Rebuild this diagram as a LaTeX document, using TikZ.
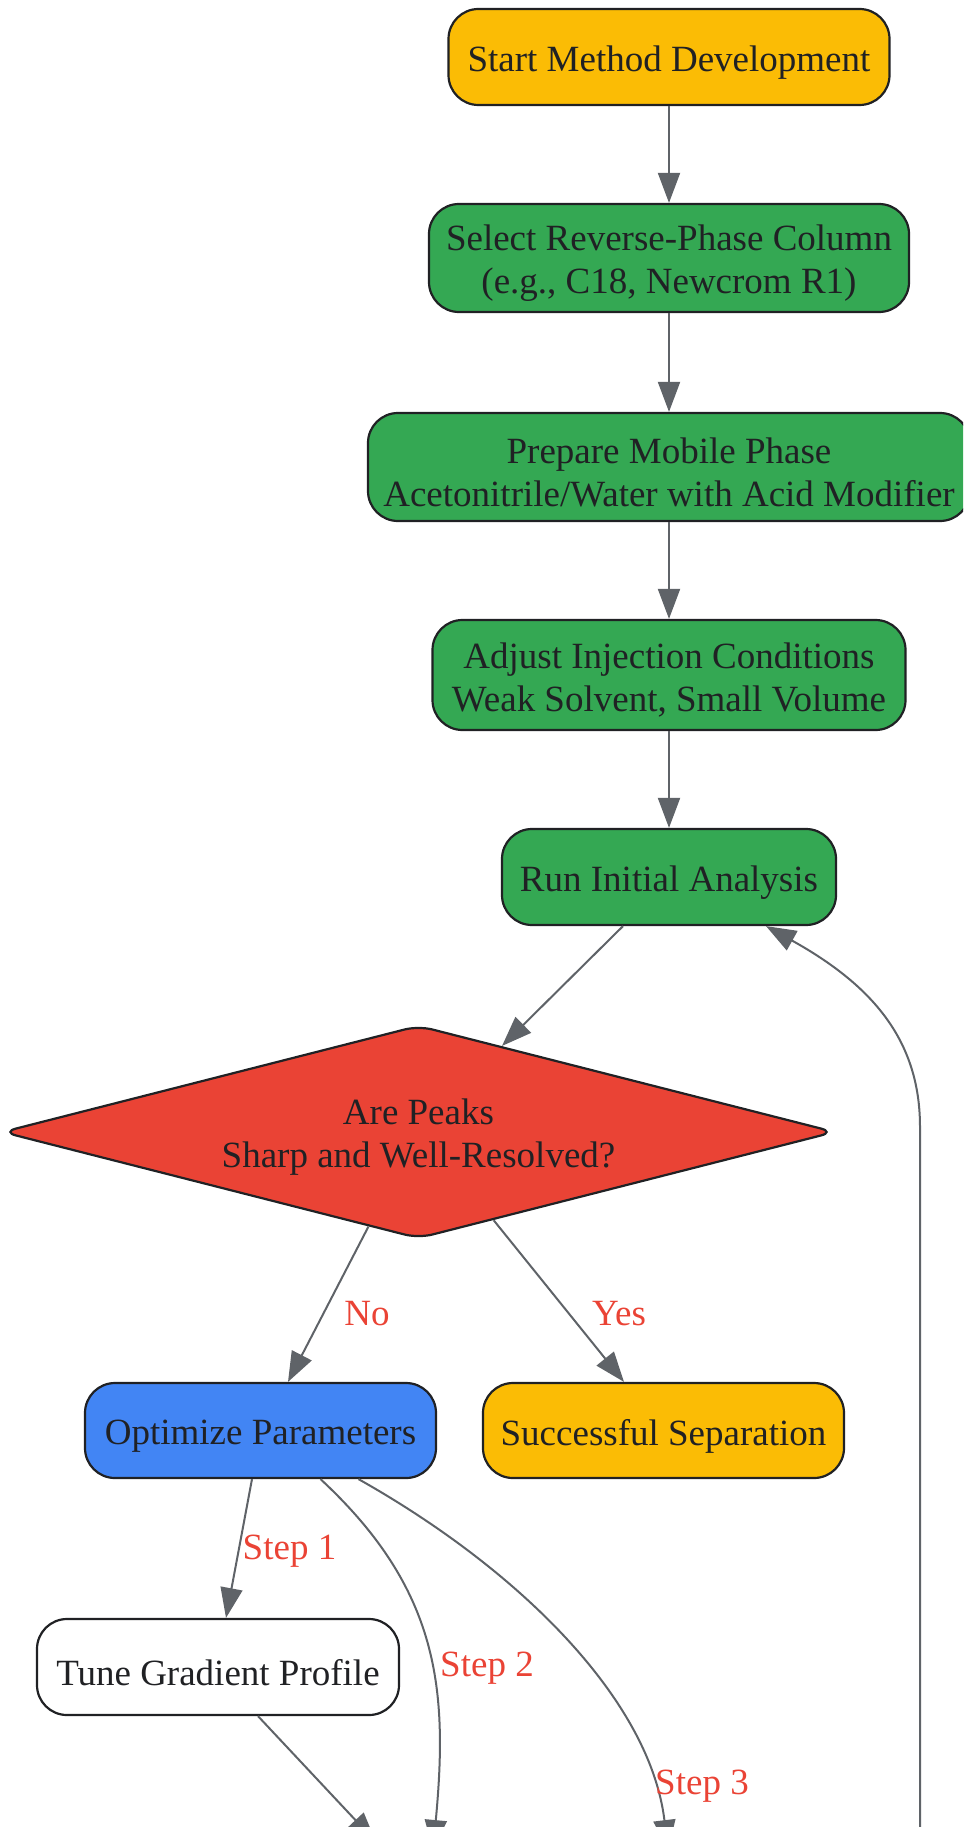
\documentclass[tikz,border=0pt]{standalone}
\usepackage{fontspec}
\setmainfont{Liberation Serif}
\usetikzlibrary{arrows.meta,shapes.geometric,calc}
\definecolor{gyellow}{HTML}{FBBC05}
\definecolor{ggreen}{HTML}{34A853}
\definecolor{gred}{HTML}{EA4335}
\definecolor{gblue}{HTML}{4285F4}
\definecolor{textdark}{HTML}{202124}
\definecolor{edgegray}{HTML}{5F6368}
\begin{document}
\begin{tikzpicture}[x=1pt,y=-1pt,
  box/.style={draw=textdark, line width=2.2pt, rounded corners=30pt, inner sep=0pt},
  txt/.style={align=center, text=textdark, font=\fontsize{37}{43}\selectfont, inner sep=0pt, yshift=-5.5pt},
  conn/.style={draw=edgegray, line width=2pt, -{Triangle[length=30pt,width=22pt]}},
  lab/.style={text=gred, font=\fontsize{37}{43}\selectfont, inner sep=0pt}]
\useasboundingbox (0,0) rectangle (963,1827);
\clip (0,0) rectangle (963,1827);

\node[box, fill=gyellow, minimum width=441pt, minimum height=96pt] (start) at (669,57) {};
\node[txt] (start-t) at (start) {Start Method Development};
\node[box, fill=ggreen, minimum width=480pt, minimum height=108pt] (select) at (669,258) {};
\node[txt] (select-t) at (select) {Select Reverse-Phase Column\\(e.g., C18, Newcrom R1)};
\node[box, fill=ggreen, minimum width=602pt, minimum height=108pt] (prep) at (669,467) {};
\node[txt] (prep-t) at (prep) {Prepare Mobile Phase\\Acetonitrile/Water with Acid Modifier};
\node[box, fill=ggreen, minimum width=473pt, minimum height=110pt] (adjust) at (669,675) {};
\node[txt] (adjust-t) at (adjust) {Adjust Injection Conditions\\Weak Solvent, Small Volume};
\node[box, fill=ggreen, minimum width=334pt, minimum height=96pt] (run) at (669,877) {};
\node[txt] (run-t) at (run) {Run Initial Analysis};
\node[draw=textdark, line width=2.2pt, fill=gred, shape=diamond, aspect=3.94,
  minimum width=833pt, minimum height=213pt, rounded corners=14pt, inner sep=0pt] (dia) at (418.5,1132) {};
\node[txt] (dia-t) at (dia) {Are Peaks\\Sharp and Well-Resolved?};
\node[box, fill=gblue, minimum width=351pt, minimum height=95pt] (opt) at (260.5,1430.5) {};
\node[txt] (opt-t) at (opt) {Optimize Parameters};
\node[box, fill=gyellow, minimum width=361pt, minimum height=95pt] (succ) at (663.5,1430.5) {};
\node[txt] (succ-t) at (succ) {Successful Separation};
\node[box, fill=white, minimum width=362pt, minimum height=96pt] (tune) at (218,1667) {};
\node[txt] (tune-t) at (tune) {Tune Gradient Profile};

\coordinate (tuneout) at (376,1842);
\coordinate (step2out) at (433,1850);
\coordinate (step3out) at (668,1850);
\coordinate (loopout) at (920,1850);
\coordinate (loopbend) at (920,1127);

\draw[conn] (start) -- (select);
\draw[conn] (select) -- (prep);
\draw[conn] (prep) -- (adjust);
\draw[conn] (adjust) -- (run);
\draw[conn] ($(run.south)+(-46,0)$) -- ($(dia.north)!0.2!(dia.east)$);
\draw[conn] ($(dia.south)!0.12!(dia.west)$) -- ($(opt.north)+(27.5,0)$);
\draw[conn] ($(dia.south)!0.18!(dia.east)$) -- ($(succ.north)+(-39.5,0)$);
\draw[conn] ($(opt.south)+(-8.5,0)$) -- ($(tune.north)+(8,0)$);
\draw[conn] ($(opt.south)+(60,0)$) .. controls (440,1590) and (448,1690) .. (step2out);
\draw[conn] ($(opt.south)+(98,0)$) .. controls (520,1570) and (650,1700) .. (step3out);
\draw[conn] ($(tune.south)+(40,0)$) -- (tuneout);
\draw[conn] (loopout) -- (loopbend) .. controls (920,1040) and (872,985) .. ($(run.south)+(97,0)$);

\node[lab] (lno) at (367,1314) {No};
\node[lab] (lyes) at (619,1314) {Yes};
\node[lab] (ls1) at (289.5,1551) {Step 1};
\node[lab] (ls2) at (487,1668) {Step 2};
\node[lab] (ls3) at (702,1786) {Step 3};
\end{tikzpicture}
\end{document}
